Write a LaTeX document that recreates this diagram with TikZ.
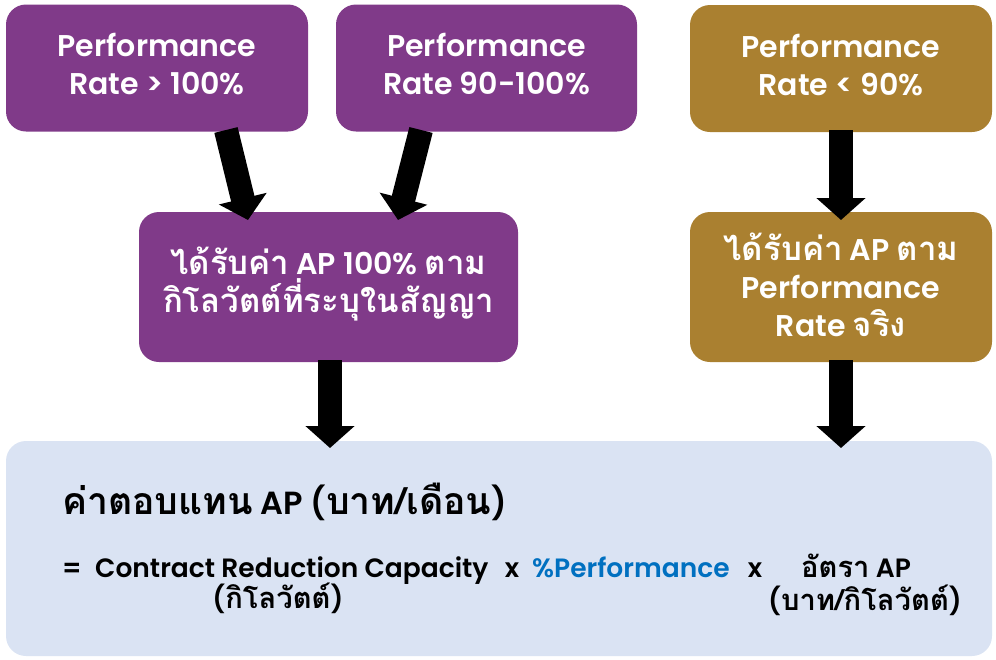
\documentclass[tikz,border=0pt]{standalone}
\usepackage{fontspec}
\setmainfont{Poppins}[UprightFont=* SemiBold]
\newfontfamily\thaifont[Script=Thai,Scale=1.1]{Loma}
\newcommand\thx[1]{{\thaifont\bfseries #1}}
\usetikzlibrary{arrows.meta}
\definecolor{apPurple}{RGB}{128,58,137}
\definecolor{apGold}{RGB}{170,128,48}
\definecolor{apBlue}{RGB}{218,227,243}
\definecolor{apText}{RGB}{0,112,192}
\tikzset{
  boxbase/.style={rectangle, rounded corners=20pt, inner sep=0pt},
  pbox/.style={boxbase, fill=apPurple},
  gbox/.style={boxbase, fill=apGold},
  boxtext/.style={inner sep=0pt, text=white, align=center, font=\fontsize{30}{38}\selectfont},
  blockarrow/.style={line width=24pt, -{Triangle[width=48pt,length=22pt]}, black},
  formula/.style={inner sep=0pt, anchor=base, font=\fontsize{26.5}{30}\selectfont},
}
\begin{document}
\begin{tikzpicture}[x=1pt,y=-1pt]
\useasboundingbox (0,0) rectangle (996,659);
% top row
\node[pbox, minimum width=302pt, minimum height=127pt] (b1) at (157,68) {};
\node[pbox, minimum width=301pt, minimum height=127pt] (b2) at (486.5,68) {};
\node[gbox, minimum width=302pt, minimum height=127pt] (b3) at (841,68.5) {};
\node[boxtext] (t1) at (157,64) {Performance\\Rate > 100\%};
\node[boxtext] (t2) at (486.5,64) {Performance\\Rate 90-100\%};
\node[boxtext] (t3) at (841,64.5) {Performance\\Rate < 90\%};
% middle row
\node[pbox, minimum width=379pt, minimum height=150pt] (b4) at (328.5,287) {};
\node[gbox, minimum width=302pt, minimum height=150pt] (b5) at (841,287) {};
\node[boxtext] (t4) at (328.5,284)
  {\thx{ได้รับค่า} AP 100\% \thx{ตาม}\\\thx{กิโลวัตต์ที่ระบุในสัญญา}};
\node[boxtext] (t5) at (841,284.5)
  {\thx{ได้รับค่า} AP \thx{ตาม}\\Performance\\Rate \thx{จริง}};
% bottom box
\node[rectangle, rounded corners=20pt, fill=apBlue, minimum width=986pt, minimum height=215pt, inner sep=0pt] (b6) at (499,548.5) {};
% arrows
\coordinate (a1s) at (226,130);
\coordinate (a1e) at (248,220);
\coordinate (a2s) at (421,130);
\coordinate (a2e) at (398,220);
\coordinate (a3s) at (841,130);
\coordinate (a3e) at (841,220);
\coordinate (a4s) at (330,360);
\coordinate (a4e) at (330,448);
\coordinate (a5s) at (841,360);
\coordinate (a5e) at (841,448);
\draw[blockarrow] (a1s) -- (a1e);
\draw[blockarrow] (a2s) -- (a2e);
\draw[blockarrow] (a3s) -- (a3e);
\draw[blockarrow] (a4s) -- (a4e);
\draw[blockarrow] (a5s) -- (a5e);
% bottom texts
\node[inner sep=0pt, anchor=base west, font=\fontsize{32}{38}\selectfont] (title) at (62,514)
  {{\fontsize{34}{38}\selectfont\thx{ค่าตอบแทน}} AP ({\fontsize{34}{38}\selectfont\thx{บาท/เดือน}})};
\node[formula, anchor=base west] (eq) at (62,577) {=};
\node[formula, anchor=base west] (crc) at (95,577) {Contract Reduction Capacity};
\node[formula] (kw1) at (278,608) {(\thx{กิโลวัตต์})};
\node[formula] (x1) at (512,577) {x};
\node[formula, anchor=base west, text=apText] (perf) at (532,577) {\%Performance};
\node[formula] (x2) at (755,577) {x};
\node[formula] (rate) at (856,577) {\thx{อัตรา} AP};
\node[formula] (kw2) at (865,610) {(\thx{บาท/กิโลวัตต์})};
\end{tikzpicture}
\end{document}
